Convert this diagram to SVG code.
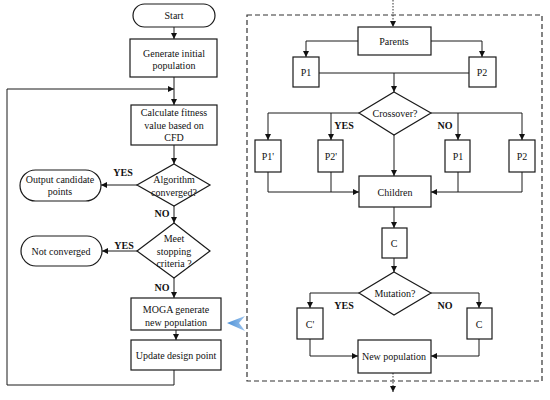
<svg xmlns="http://www.w3.org/2000/svg" width="550" height="400" viewBox="0 0 550 400">
<defs>
<marker id="ah" viewBox="0 0 10 10" refX="10" refY="5" markerWidth="6" markerHeight="6" markerUnits="userSpaceOnUse" orient="auto">
<path d="M0,0 L10,5 L0,10 z" fill="#111"/>
</marker>
<linearGradient id="bl" x1="0" y1="0" x2="1" y2="0">
<stop offset="0" stop-color="#4a8fd6"/>
<stop offset="1" stop-color="#9cc4ee"/>
</linearGradient>
</defs>
<style>
.b{fill:#fff;stroke:#1a1a1a;stroke-width:1.2}
.l{fill:none;stroke:#1a1a1a;stroke-width:1}
.a{fill:none;stroke:#1a1a1a;stroke-width:1;marker-end:url(#ah)}
.d{fill:none;stroke:#333;stroke-width:1;stroke-dasharray:1.5,1.5;marker-end:url(#ah)}
.t{font-family:"Liberation Serif",serif;font-size:10px;fill:#111;text-anchor:middle}
.k{font-family:"Liberation Serif",serif;font-size:10px;font-weight:bold;fill:#111;text-anchor:middle}
</style>
<rect x="0" y="0" width="550" height="400" fill="#fff"/>
<rect x="247" y="15" width="295" height="366" fill="none" stroke="#333" stroke-width="1.2" stroke-dasharray="5,3"/>
<g id="connectors">
<path class="a" d="M174,27 V39"/>
<path class="a" d="M174,77 V105"/>
<path class="a" d="M174,370 V385 H7 V89 H174"/>
<path class="a" d="M174,145 V164"/>
<path class="a" d="M174,206 V223"/>
<path class="a" d="M174,278 V298"/>
<path class="a" d="M176,330 V340"/>
<path class="a" d="M137,185 H101"/>
<path class="a" d="M137,251 H102"/>
<path class="d" d="M393,0 V27"/>
<path class="d" d="M393,373 V392"/>
<path class="a" d="M358,41 H306 V57"/>
<path class="a" d="M431,41 H482 V57"/>
<path class="l" d="M319,73 H469"/>
<path class="a" d="M394,73 V92"/>
<path class="a" d="M359,113 H268 V140"/>
<path class="a" d="M331,113 V140"/>
<path class="a" d="M431,113 H522 V140"/>
<path class="a" d="M458,113 V140"/>
<path class="a" d="M394,135 V176"/>
<path class="a" d="M268,172 V192 H359"/>
<path class="l" d="M331,172 V192"/>
<path class="a" d="M522,172 V192 H431"/>
<path class="l" d="M458,172 V192"/>
<path class="a" d="M394,207 V228"/>
<path class="a" d="M394,258 V272"/>
<path class="a" d="M359,293 H310 V308"/>
<path class="a" d="M431,293 H479 V308"/>
<path class="a" d="M310,339 V356 H358"/>
<path class="a" d="M479,339 V356 H431"/>
</g>
<g id="start"><rect class="b" x="133" y="4" width="82" height="23" rx="11.5"/><text class="t" x="174" y="19">Start</text></g>
<g id="generate"><rect class="b" x="130" y="39" width="87" height="38"/><text class="t" x="174" y="57">Generate initial</text><text class="t" x="174" y="69">population</text></g>
<g id="calculate"><rect class="b" x="131" y="105" width="86" height="40"/><text class="t" x="174" y="116">Calculate fitness</text><text class="t" x="174" y="129">value based on</text><text class="t" x="174" y="141">CFD</text></g>
<g id="converged"><polygon class="b" points="174,164 210,185 174,206 137,185"/><text class="t" x="174" y="183">Algorithm</text><text class="t" x="174" y="196">converged?</text></g>
<g id="output"><rect class="b" x="20" y="170" width="81" height="31" rx="15.5"/><text class="t" x="60" y="183">Output candidate</text><text class="t" x="60" y="195">points</text></g>
<g id="stopping"><polygon class="b" points="174,223 210,251 174,278 137,251"/><text class="t" x="174" y="242">Meet</text><text class="t" x="174" y="255">stopping</text><text class="t" x="174" y="267">criteria ?</text></g>
<g id="notconv"><rect class="b" x="21" y="236" width="81" height="30" rx="15"/><text class="t" x="61" y="255">Not converged</text></g>
<g id="moga"><rect class="b" x="131" y="298" width="90" height="32"/><text class="t" x="176" y="313">MOGA generate</text><text class="t" x="176" y="326">new population</text></g>
<g id="update"><rect class="b" x="131" y="340" width="90" height="30"/><text class="t" x="176" y="359">Update design point</text></g>
<g id="labels-left"><text class="k" x="123" y="176">YES</text><text class="k" x="162" y="217">NO</text><text class="k" x="124" y="249">YES</text><text class="k" x="162" y="291">NO</text></g>
<g id="chevron"><polygon points="227,323 245,316 239,323 245,331" fill="url(#bl)"/></g>
<g id="parents"><rect class="b" x="358" y="27" width="73" height="28"/><text class="t" x="394" y="45">Parents</text></g>
<g id="p1"><rect class="b" x="293" y="57" width="26" height="30"/><text class="t" x="306" y="76">P1</text></g>
<g id="p2"><rect class="b" x="469" y="57" width="27" height="30"/><text class="t" x="482" y="76">P2</text></g>
<g id="crossover"><polygon class="b" points="394,92 431,113 394,135 359,113"/><text class="t" x="395" y="117">Crossover?</text></g>
<g id="p1p"><rect class="b" x="255" y="140" width="26" height="32"/><text class="t" x="268" y="160">P1'</text></g>
<g id="p2p"><rect class="b" x="318" y="140" width="25" height="32"/><text class="t" x="331" y="160">P2'</text></g>
<g id="p1b"><rect class="b" x="445" y="140" width="25" height="32"/><text class="t" x="458" y="160">P1</text></g>
<g id="p2b"><rect class="b" x="509" y="140" width="26" height="32"/><text class="t" x="522" y="160">P2</text></g>
<g id="children"><rect class="b" x="359" y="176" width="72" height="31"/><text class="t" x="395" y="196">Children</text></g>
<g id="c"><rect class="b" x="382" y="228" width="25" height="30"/><text class="t" x="394" y="247">C</text></g>
<g id="mutation"><polygon class="b" points="394,272 431,293 394,315 359,293"/><text class="t" x="395" y="297">Mutation?</text></g>
<g id="cprime"><rect class="b" x="297" y="308" width="26" height="31"/><text class="t" x="310" y="328">C'</text></g>
<g id="c2"><rect class="b" x="467" y="308" width="25" height="31"/><text class="t" x="479" y="328">C</text></g>
<g id="newpop"><rect class="b" x="358" y="340" width="73" height="33"/><text class="t" x="394" y="360">New population</text></g>
<g id="labels-right"><text class="k" x="344" y="129">YES</text><text class="k" x="445" y="129">NO</text><text class="k" x="344" y="309">YES</text><text class="k" x="445" y="309">NO</text></g>
</svg>
